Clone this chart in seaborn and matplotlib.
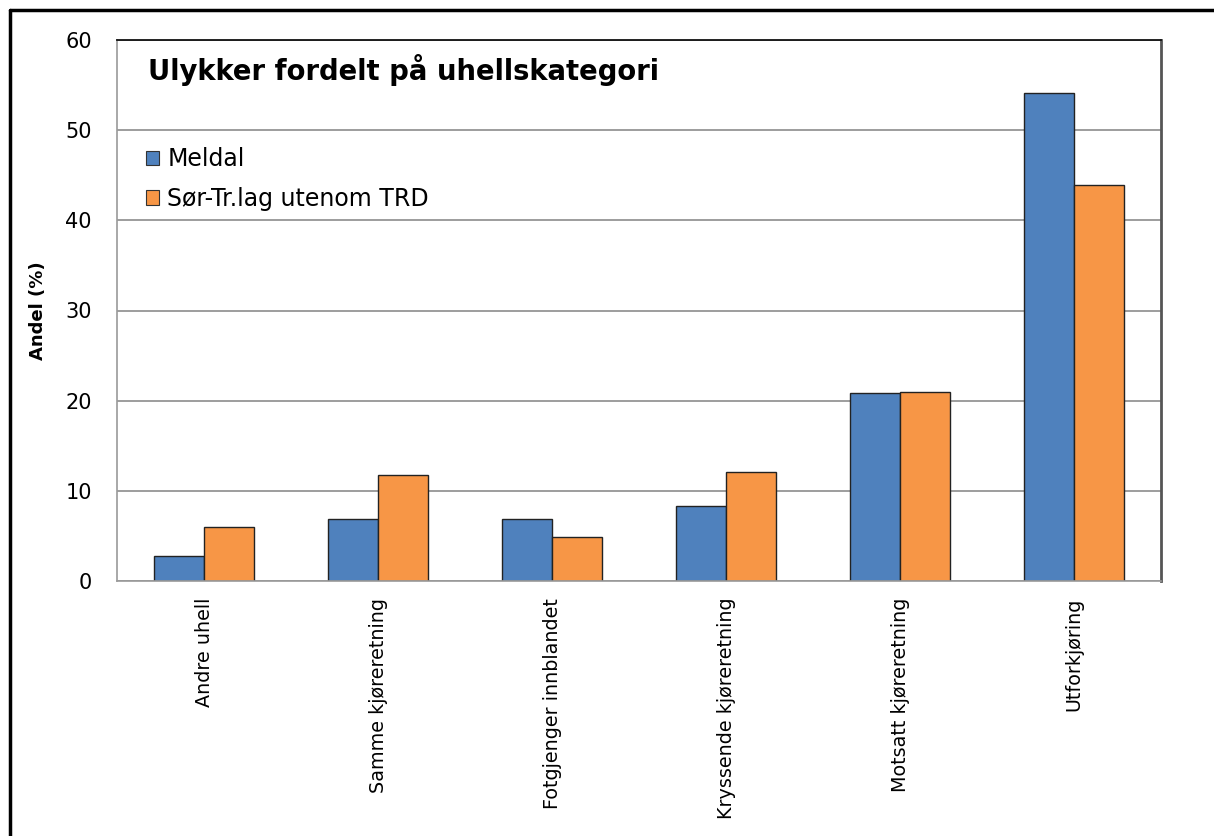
import matplotlib
matplotlib.use("Agg")
import matplotlib.pyplot as plt
import seaborn as sns
import pandas as pd
from matplotlib.lines import Line2D
from matplotlib.patches import Patch

categories = ["Andre uhell", "Samme kjøreretning", "Fotgjenger innblandet",
              "Kryssende kjøreretning", "Motsatt kjøreretning", "Utforkjøring"]
series_names = ["Meldal", "Sør-Tr.lag utenom TRD"]
meldal = [2.8, 6.9, 6.9, 8.3, 20.8, 54.1]
sor = [6.0, 11.8, 4.9, 12.1, 21.0, 43.9]
yticks = [0, 10, 20, 30, 40, 50, 60]
colors = ["#4F81BD", "#F79646"]

df = pd.DataFrame({
    "Kategori": categories * 2,
    "Serie": [series_names[0]] * len(categories) + [series_names[1]] * len(categories),
    "Andel": meldal + sor,
})

sns.set_theme(style="white")
plt.rcParams["font.family"] = ["DejaVu Sans"]
plt.rcParams["text.color"] = "black"
plt.rcParams["axes.labelcolor"] = "black"
plt.rcParams["xtick.color"] = "black"
plt.rcParams["ytick.color"] = "black"

fig = plt.figure(figsize=(12.14, 8.36), dpi=100)
ax = fig.add_axes([117/1214, 1-581/836, (1161-117)/1214, (581-40)/836])

sns.barplot(data=df, x="Kategori", y="Andel", hue="Serie", palette=colors,
            order=categories, hue_order=series_names, width=0.58,
            edgecolor="#222222", linewidth=1.0, saturation=1, ax=ax, legend=False)

ax.set_ylim(0, 60)
ax.set_xlim(-0.5, len(categories) - 0.5)
ax.set_yticks(yticks)
ax.set_yticklabels([str(t) for t in yticks], fontsize=15)
ax.yaxis.grid(True, color="#8c8c8c", linewidth=1.2)
ax.set_axisbelow(True)
ax.tick_params(axis="both", length=0)
ax.tick_params(axis="y", pad=18)
ax.tick_params(axis="x", pad=12)
ax.set_xticks(range(len(categories)))
ax.set_xticklabels(categories, rotation=90, fontsize=13.8, va="top", ha="center")
ax.set_xlabel("")
ax.set_ylabel("Andel (%)", fontsize=13, fontweight="bold")
ax.yaxis.set_label_coords(-(117-47)/1044, 0.5)

for side in ["left", "bottom"]:
    ax.spines[side].set_color("#9a9a9a")
    ax.spines[side].set_linewidth(1.2)
ax.spines["top"].set_color("#111111")
ax.spines["top"].set_linewidth(1.3)
ax.spines["right"].set_color("#555555")
ax.spines["right"].set_linewidth(2.0)

fig.text(148/1214, 1-70/836, "Ulykker fordelt på uhellskategori", fontsize=19.8,
         fontweight="bold", va="center", ha="left")

handles = [Patch(facecolor=c, edgecolor="#333333", linewidth=0.8) for c in colors]
leg = ax.legend(handles, series_names, loc="upper left",
                bbox_to_anchor=((146-117)/1044, (581-147)/541), frameon=False,
                fontsize=17, handlelength=0.55, handleheight=0.55,
                handletextpad=0.35, labelspacing=0.67, borderaxespad=0,
                borderpad=0)

# outer frame (left and top edges)
fig.add_artist(Line2D([10/1214, 10/1214], [0, 1-10/836], transform=fig.transFigure,
                      color="black", linewidth=2.5))
fig.add_artist(Line2D([10/1214, 1], [1-10/836, 1-10/836], transform=fig.transFigure,
                      color="black", linewidth=2.5))

fig.savefig("out.png", dpi=100, facecolor="white")
